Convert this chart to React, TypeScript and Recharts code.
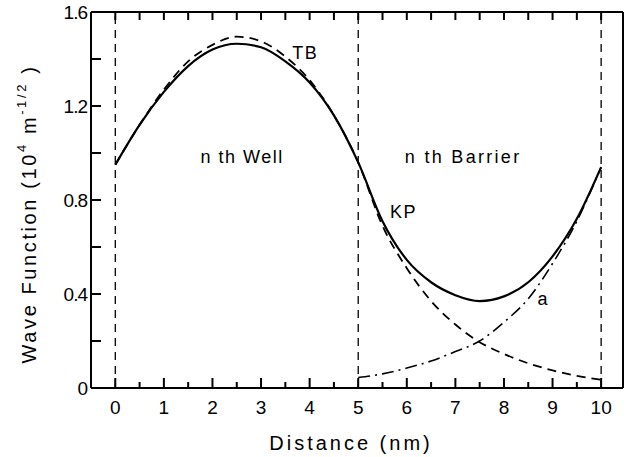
import { LineChart, Line, XAxis, YAxis, ReferenceLine, ReferenceDot, Customized } from 'recharts';

const distance = [0, 0.5, 1, 1.5, 2, 2.5, 3, 3.5, 4, 4.5, 5, 5.5, 6, 6.5, 7, 7.5, 8, 8.5, 9, 9.5, 10];
const kp = [0.95, 1.12, 1.26, 1.37, 1.44, 1.465, 1.45, 1.39, 1.3, 1.16, 0.96, 0.71, 0.545, 0.45, 0.395, 0.37, 0.39, 0.45, 0.56, 0.72, 0.94];
const tb = [0.95, 1.12, 1.27, 1.39, 1.46, 1.495, 1.475, 1.41, 1.31, 1.16, 0.96, 0.69, 0.51, 0.37, 0.27, 0.195, 0.145, 0.105, 0.075, 0.052, 0.035];
const alpha = [null, null, null, null, null, null, null, null, null, null, 0.045, 0.06, 0.085, 0.115, 0.155, 0.2, 0.28, 0.38, 0.53, 0.71, 0.94];

const majorTicks = [0, 1, 2, 3, 4, 5, 6, 7, 8, 9, 10];
const minorTicks = [0.5, 1.5, 2.5, 3.5, 4.5, 5.5, 6.5, 7.5, 8.5, 9.5];
const topTicks = [0, 0.5, 1, 1.5, 2, 2.5, 3, 3.5, 4, 4.5, 5, 5.5, 6, 6.5, 7, 7.5, 8, 8.5, 9, 9.5, 10];
const yTicks = [0, 0.2, 0.4, 0.6, 0.8, 1.0, 1.2, 1.4, 1.6];
const yLabels = [0, 0.4, 0.8, 1.2, 1.6];
const wellLines = [0, 5, 10];

const FONT = '"Liberation Sans", Arial, sans-serif';
const X_DOMAIN = [-0.5, 10.45];

const data = distance.map((d, i) => ({ x: d, kp: kp[i], tb: tb[i], a: alpha[i] }));

const yFormat = (v: number) => {
  const r = Math.round(v * 10) / 10;
  if (!yLabels.some((l) => Math.abs(l - r) < 1e-6)) return '';
  return r === 0 ? '0' : r.toFixed(1);
};

// inward tick marks drawn by hand (axis tick={false} would drop the tick lines too)
const MinorTick = (props: any) => {
  const { x, y } = props;
  return <line x1={x} x2={x} y1={y - 1} y2={y - 7} stroke="#000" strokeWidth={2} />;
};

const TopTick = (props: any) => {
  const { x, y } = props;
  return <line x1={x} x2={x} y1={y} y2={y + 8} stroke="#000" strokeWidth={2} />;
};

const Titles = () => (
  <g fontFamily={FONT} fill="#000">
    <text x={351} y={450} textAnchor="middle" fontSize={20} letterSpacing={3}>
      Distance (nm)
    </text>
    <text x={29} y={214} transform="rotate(-90, 29, 214)" textAnchor="middle" dominantBaseline="central" fontSize={20} letterSpacing={2.6}>
      Wave Function (10
      <tspan fontSize={13} dy={-8}>4</tspan>
      <tspan dy={8}> m</tspan>
      <tspan fontSize={13} dy={-8}>-1/2</tspan>
      <tspan dy={8}> )</tspan>
    </text>
  </g>
);

const annotation = { fill: '#000', fontSize: 18, fontFamily: FONT, letterSpacing: 1.5, position: 'center' as const };
const axisLine = { stroke: '#000', strokeWidth: 2 };
const tickLine = { stroke: '#000', strokeWidth: 2 };

export default function App() {
  return (
    <div style={{ position: 'absolute', left: 0, top: 0, background: '#fff' }}>
      <LineChart width={629} height={457} data={data} margin={{ top: 11, right: 5, bottom: 67, left: 90 }}>
        <XAxis
          dataKey="x"
          type="number"
          domain={X_DOMAIN}
          ticks={majorTicks}
          interval={0}
          height={1}
          tickSize={-10}
          tickMargin={23}
          tickLine={tickLine}
          tick={{ fontSize: 19, fontFamily: FONT, fill: '#000' }}
          axisLine={axisLine}
          allowDataOverflow
        />
        <XAxis
          xAxisId="minor"
          dataKey="x"
          type="number"
          domain={X_DOMAIN}
          ticks={minorTicks}
          interval={0}
          height={1}
          tickSize={0}
          tickMargin={0}
          tickLine={false}
          tick={<MinorTick />}
          axisLine={false}
          allowDataOverflow
        />
        <XAxis
          xAxisId="top"
          orientation="top"
          dataKey="x"
          type="number"
          domain={X_DOMAIN}
          ticks={topTicks}
          interval={0}
          height={1}
          tickSize={0}
          tickMargin={0}
          tickLine={false}
          tick={<TopTick />}
          axisLine={axisLine}
          allowDataOverflow
        />
        <YAxis
          type="number"
          domain={[0, 1.6]}
          ticks={yTicks}
          interval={0}
          width={1}
          tickSize={-10}
          tickMargin={14}
          tickLine={tickLine}
          tickFormatter={yFormat}
          tick={{ fontSize: 19, fontFamily: FONT, fill: '#000', letterSpacing: -1 }}
          axisLine={axisLine}
          allowDataOverflow
        />
        <YAxis
          yAxisId="right"
          orientation="right"
          type="number"
          domain={[0, 1.6]}
          width={1}
          tick={false}
          tickLine={false}
          axisLine={axisLine}
        />
        {wellLines.map((w) => (
          <ReferenceLine key={w} x={w} stroke="#000" strokeWidth={1.3} strokeDasharray="8 6" />
        ))}
        <Line dataKey="tb" type="monotone" stroke="#000" strokeWidth={1.8} strokeDasharray="9 6" dot={false} isAnimationActive={false} />
        <Line dataKey="a" type="monotone" stroke="#000" strokeWidth={1.6} strokeDasharray="12 5 2 5" dot={false} isAnimationActive={false} />
        <Line dataKey="kp" type="monotone" stroke="#000" strokeWidth={2.2} dot={false} isAnimationActive={false} />
        <ReferenceDot x={3.91} y={1.426} r={0} fill="none" stroke="none" label={{ ...annotation, value: 'TB' }} />
        <ReferenceDot x={2.61} y={0.983} r={0} fill="none" stroke="none" label={{ ...annotation, value: 'n th Well' }} />
        <ReferenceDot x={7.16} y={0.983} r={0} fill="none" stroke="none" label={{ ...annotation, letterSpacing: 2.3, value: 'n th Barrier' }} />
        <ReferenceDot x={5.93} y={0.749} r={0} fill="none" stroke="none" label={{ ...annotation, value: 'KP' }} />
        <ReferenceDot x={8.81} y={0.379} r={0} fill="none" stroke="none" label={{ ...annotation, value: 'a' }} />
        <Customized component={Titles} />
      </LineChart>
    </div>
  );
}
